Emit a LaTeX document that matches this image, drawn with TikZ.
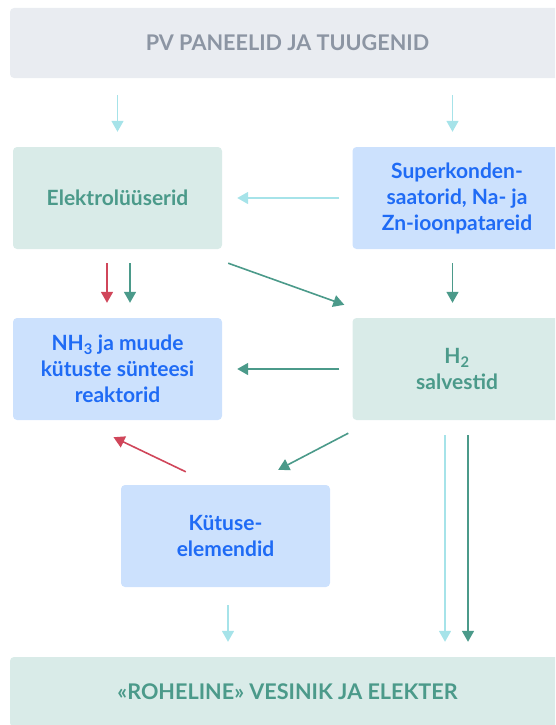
\documentclass[tikz,border=0pt]{standalone}
\usepackage{fontspec}
\setmainfont{Lato}
\usetikzlibrary{arrows.meta, positioning, calc}
\definecolor{bandgrey}{HTML}{E9ECF1}
\definecolor{textgrey}{HTML}{8C95A3}
\definecolor{boxgreen}{HTML}{D9EBE8}
\definecolor{textgreen}{HTML}{4B9A8A}
\definecolor{boxblue}{HTML}{CCE1FD}
\definecolor{textblue}{HTML}{1F6BF5}
\definecolor{arrcyan}{HTML}{A6E3E9}
\definecolor{arrgreen}{HTML}{4B9A8A}
\definecolor{arrred}{HTML}{D0465A}

\begin{document}
\begin{tikzpicture}[x=1pt, y=-1pt,
    box/.style={rectangle, rounded corners=4pt, minimum width=209pt, minimum height=102pt,
      align=center, font=\fontsize{21}{26}\selectfont\bfseries},
    greenbox/.style={box, fill=boxgreen, text=textgreen},
    bluebox/.style={box, fill=boxblue, text=textblue},
    band/.style={rectangle, rounded corners=4pt, minimum width=555pt, minimum height=70pt,
      font=\fontsize{21.6}{26}\selectfont\bfseries},
    arr/.style={line width=1.6pt, -{Triangle[length=11pt,width=12pt]}},
    cyanarr/.style={arr, arrcyan},
    greenarr/.style={arr, arrgreen},
    redarr/.style={arr, arrred}]
  \useasboundingbox (0,0) rectangle (555,725);
  \clip (0,0) rectangle (555,725);

  % Baender oben und unten
  \node[band, fill=bandgrey, text=textgrey] (pv) at (287.5,43) {PV PANEELID JA TUUGENID};
  \node[band, fill=boxgreen, text=textgreen] (roh) at (287.5,692) {«ROHELINE» VESINIK JA ELEKTER};

  % Kaesten
  \node[greenbox] (elek) at (117.5,198) {Elektrolüüserid};
  \node[bluebox] (superk) at (457,198) {Superkonden-\\saatorid, Na- ja\\Zn-ioonpatareid};
  \node[bluebox] (nh3) at (117.5,369) {NH\textsubscript{3} ja muude\\kütuste sünteesi\\reaktorid};
  \node[greenbox] (htwo) at (457,369) {H\textsubscript{2}\\salvestid};
  \node[bluebox] (kut) at (225.5,536) {Kütuse-\\elemendid};

  % Pfeile
  \draw[cyanarr, shorten <=17pt, shorten >=15pt] (pv.south -| elek.north) -- (elek.north);
  \draw[cyanarr, shorten <=17pt, shorten >=15pt] ([xshift=-4.5pt]pv.south -| superk.north) -- ([xshift=-4.5pt]superk.north);
  \draw[cyanarr, shorten <=13pt, shorten >=15pt] (superk.west) -- (elek.east);
  \draw[redarr, shorten <=14pt, shorten >=15pt] ([xshift=-10.5pt]elek.south) -- ([xshift=-10.5pt]nh3.north);
  \draw[greenarr, shorten <=14pt, shorten >=15pt] ([xshift=12.5pt]elek.south) -- ([xshift=12.5pt]nh3.north);
  \draw[greenarr] ($(elek.south east)+(6,14)$) -- ($(htwo.north west)+(-8,-13)$);
  \draw[greenarr, shorten <=14pt, shorten >=15pt] ([xshift=-4.5pt]superk.south) -- ([xshift=-4.5pt]htwo.north);
  \draw[greenarr, shorten <=13pt, shorten >=15pt] (htwo.west) -- (nh3.east);
  \draw[redarr] ($(kut.north west)+(65,-13)$) -- ($(nh3.south)+(-4,17)$);
  \draw[greenarr] ($(htwo.south west)+(-4,13)$) -- ($(kut.north east)+(-52,-15)$);
  \draw[cyanarr, shorten <=15pt, shorten >=15pt] ([xshift=-12pt]htwo.south) -- ([xshift=-12pt]htwo.south |- roh.north);
  \draw[greenarr, shorten <=15pt, shorten >=15pt] ([xshift=11pt]htwo.south) -- ([xshift=11pt]htwo.south |- roh.north);
  \draw[cyanarr, shorten <=18pt, shorten >=15pt] ([xshift=2.5pt]kut.south) -- ([xshift=2.5pt]kut.south |- roh.north);
\end{tikzpicture}
\end{document}
